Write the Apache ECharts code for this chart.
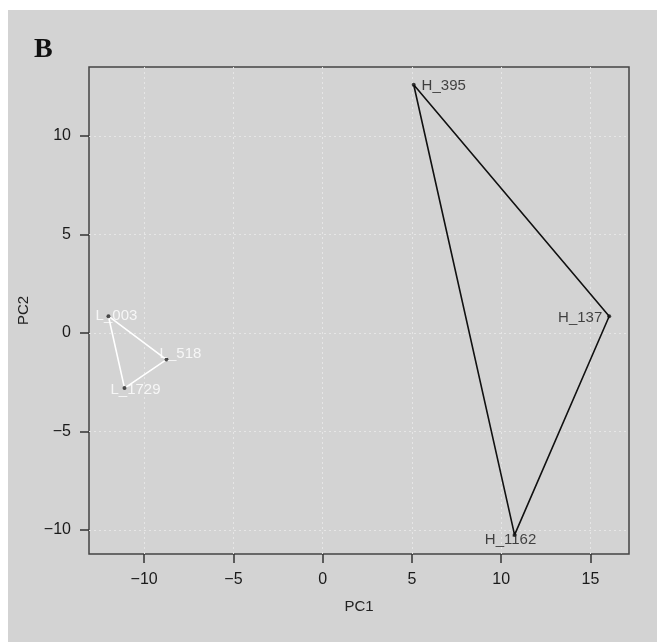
<!DOCTYPE html>
<html>
<head>
<meta charset="utf-8">
<script src="https://cdn.jsdelivr.net/npm/echarts@6.0.0/dist/echarts.min.js"></script>
<style>
  html, body { margin: 0; padding: 0; background: #fff; }
  #JS_PcaChart { position: absolute; left: 8px; top: 10px; width: 649px; height: 632px; background: #d3d3d3; }
</style>
</head>
<body>
<div id="JS_PcaChart"></div>
<script>
// group H (black triangle)
const hNames = ["H_395", "H_137", "H_1162"];
const hPC1 = [5.1, 16.05, 10.75];
const hPC2 = [12.6, 0.85, -10.25];
// group L (white triangle)
const lNames = ["L_003", "L_518", "L_1729"];
const lPC1 = [-12.0, -8.75, -11.1];
const lPC2 = [0.85, -1.35, -2.8];
// axis ticks
const xTicks = [-10, -5, 0, 5, 10, 15];
const yTicks = [-10, -5, 0, 5, 10];
const xRange = [-13.09, 17.16];
const yRange = [-11.22, 13.5];

// where each label sits relative to its point (px)
const labelOffset = {
  H_395: [30, 1],
  H_137: [-29, 2],
  H_1162: [-4, 5],
  L_003: [8, 0],
  L_518: [14, -6],
  L_1729: [11, 2],
};

let option;

function toPoints(names, xs, ys) {
  return names.map((n, i) => ({
    name: n,
    value: [xs[i], ys[i]],
    label: { offset: labelOffset[n] },
  }));
}

function closed(xs, ys) {
  const pts = xs.map((x, i) => [x, ys[i]]);
  pts.push(pts[0]);
  return pts;
}

const minus = (v) => String(v).replace("-", "\u2212");

function axisBase(ticks, margin) {
  return {
    type: "value",
    axisLine: { show: false, onZero: false },
    axisTick: {
      show: true,
      inside: false,
      length: 9,
      customValues: ticks,
      lineStyle: { color: "#333", width: 1.5 },
    },
    axisLabel: {
      customValues: ticks,
      formatter: minus,
      margin: margin,
      color: "#1a1a1a",
      fontSize: 16,
      fontFamily: "Liberation Sans",
    },
    splitLine: {
      show: true,
      lineStyle: { color: "#e6e6e6", type: [2, 3], width: 1 },
    },
    nameLocation: "middle",
    nameTextStyle: { color: "#222", fontSize: 15, fontFamily: "Liberation Sans" },
  };
}

function initOpt() {
  option = {
    animation: false,
    grid: {
      left: 75,
      top: 57,
      width: 546,
      height: 487,
      show: true,
      borderColor: "#444",
      borderWidth: 1.5,
      backgroundColor: "transparent",
    },
    graphic: [
      {
        type: "text",
        left: 26,
        top: 26,
        style: {
          text: "B",
          font: "bold 28px 'Liberation Serif'",
          fill: "#111",
        },
      },
    ],
    xAxis: Object.assign(axisBase(xTicks, 18), {
      min: xRange[0],
      max: xRange[1],
      name: "PC1",
      nameGap: 45,
    }),
    yAxis: Object.assign(axisBase(yTicks, 18), {
      min: yRange[0],
      max: yRange[1],
      name: "PC2",
      nameGap: 58,
    }),
    series: [
      {
        type: "line",
        data: closed(hPC1, hPC2),
        showSymbol: false,
        lineStyle: { color: "#111", width: 1.6 },
        z: 2,
      },
      {
        type: "line",
        data: closed(lPC1, lPC2),
        showSymbol: false,
        lineStyle: { color: "#fff", width: 1.6 },
        z: 2,
      },
      {
        type: "scatter",
        data: toPoints(hNames, hPC1, hPC2),
        symbolSize: 4,
        itemStyle: { color: "#111" },
        label: {
          show: true,
          position: "inside",
          formatter: "{b}",
          color: "#1a1a1a",
          fontSize: 15,
          fontFamily: "Liberation Sans",
        },
        z: 3,
      },
      {
        type: "scatter",
        data: toPoints(lNames, lPC1, lPC2),
        symbolSize: 4,
        itemStyle: { color: "#222" },
        label: {
          show: true,
          position: "inside",
          formatter: "{b}",
          color: "#fff",
          fontSize: 15,
          fontFamily: "Liberation Sans",
        },
        z: 3,
      },
    ],
  };
}

function initView() {
  initOpt();
  const chartDom = document.getElementById("JS_PcaChart");
  const pcaChart = echarts.init(chartDom);
  option && pcaChart.setOption(option);
}

initView();
</script>
</body>
</html>
